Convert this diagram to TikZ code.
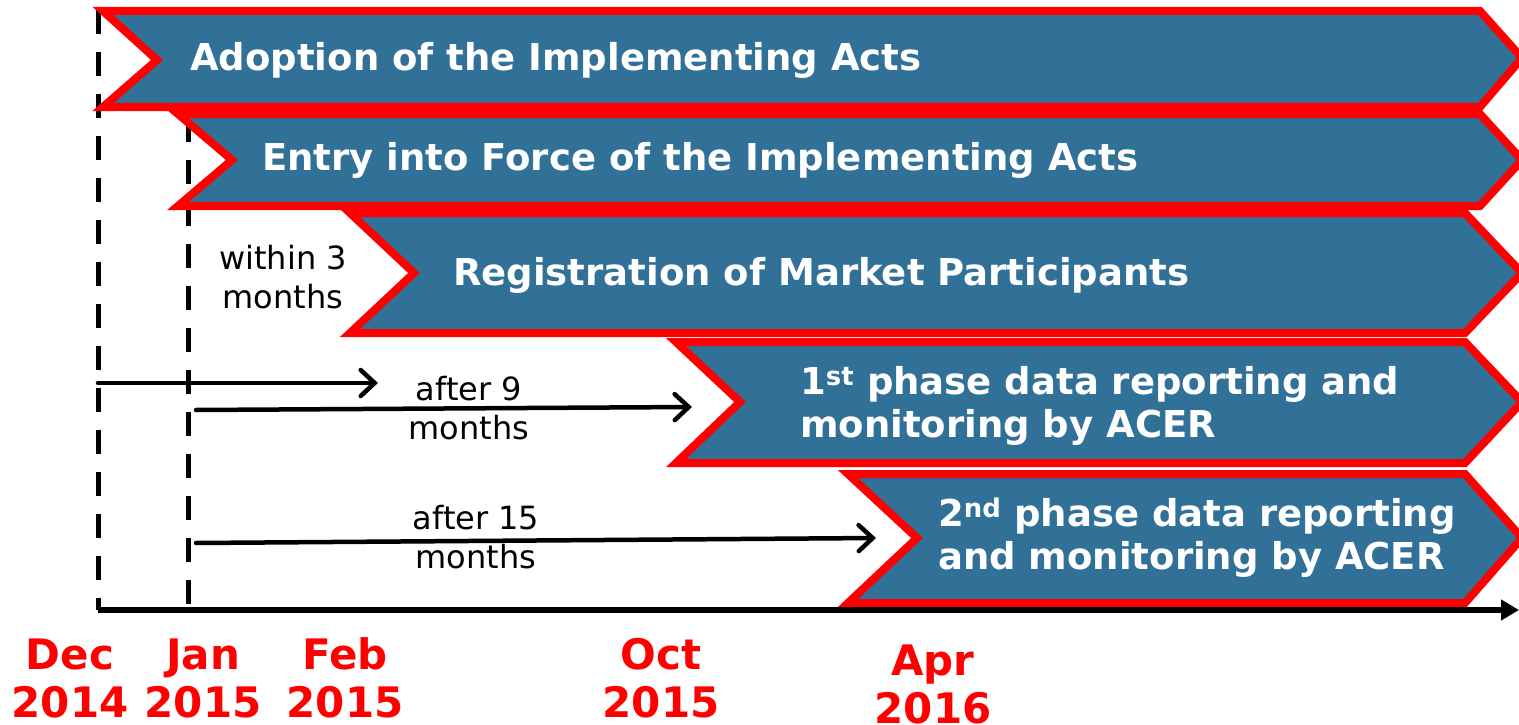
\documentclass[tikz,border=0pt]{standalone}
\usepackage{fontspec}
\setmainfont{DejaVu Sans}
\usetikzlibrary{arrows.meta}
\definecolor{barblue}{RGB}{49,112,151}
\definecolor{datered}{RGB}{255,0,0}

\begin{document}
\begin{tikzpicture}[x=1pt,y=-1pt,
  bar/.style={draw=datered,line width=8pt,fill=barblue,line join=miter},
  title/.style={text=white,font=\fontsize{37}{43}\selectfont\bfseries,anchor=west,align=left,inner sep=0pt},
  note/.style={font=\fontsize{32}{39}\selectfont,align=center,inner sep=0pt},
  date/.style={text=datered,font=\fontsize{42}{48}\selectfont\bfseries,align=center,inner sep=0pt},
  guide/.style={line width=5pt,dash pattern=on 24pt off 18pt},
  span/.style={line width=4.5pt,line cap=round,-{Straight Barb[length=14pt,width=26pt,line cap=round]}}]
\useasboundingbox (0,0) rectangle (1519,725);
\draw[guide] (98,10) -- (98,610);
\draw[guide] (188,118) -- (188,610);
\draw[bar] (103,11) -- (1480,11) -- (1522,58) -- (1480,107) -- (103,107) -- (157,60) -- cycle;
\draw[bar] (178,114) -- (1480,114) -- (1522,160) -- (1480,206) -- (178,206) -- (232,160) -- cycle;
\draw[bar] (350,213) -- (1465,213) -- (1522,273) -- (1465,333) -- (350,333) -- (414,273) -- cycle;
\draw[bar] (676,342) -- (1465,342) -- (1522,402) -- (1465,463) -- (676,463) -- (740,402) -- cycle;
\draw[bar] (848,474) -- (1465,474) -- (1522,538) -- (1465,603) -- (848,603) -- (917,538) -- cycle;
\node[title] (adopt) at (190,60) {Adoption of the Implementing Acts};
\node[title] (entry) at (262,160) {Entry into Force of the Implementing Acts};
\node[title] (regist) at (453,275) {Registration of Market Participants};
\node[title] (phaseone) at (800,406) {1\textsuperscript{st} phase data reporting and\\monitoring by ACER};
\node[title] (phasetwo) at (938,538) {2\textsuperscript{nd} phase data reporting\\and monitoring by ACER};
\node[note] (within) at (283,277) {within 3\\months};
\node[note] (afternine) at (469,408) {after 9\\months};
\node[note] (afterfifteen) at (476,537) {after 15\\months};
\coordinate (startdec) at (98,383);
\coordinate (endfeb) at (378,383);
\coordinate (startjan) at (196,410);
\coordinate (endoct) at (692,407);
\coordinate (startjanb) at (196,543);
\coordinate (endapr) at (876,538);
\coordinate (axisl) at (98,610);
\coordinate (axisr) at (1519,610);
\draw[span] (startdec) -- (endfeb);
\draw[span] (startjan) -- (endoct);
\draw[span] (startjanb) -- (endapr);
\draw[line width=6pt,-{Triangle[length=18pt,width=20pt]}] (axisl) -- (axisr);
\node[date] (dec) at (70,678) {Dec\\2014};
\node[date] (jan) at (203,678) {Jan\\2015};
\node[date] (feb) at (345,678) {Feb\\2015};
\node[date] (oct) at (661,678) {Oct\\2015};
\node[date] (apr) at (933,684) {Apr\\2016};
\end{tikzpicture}
\end{document}
